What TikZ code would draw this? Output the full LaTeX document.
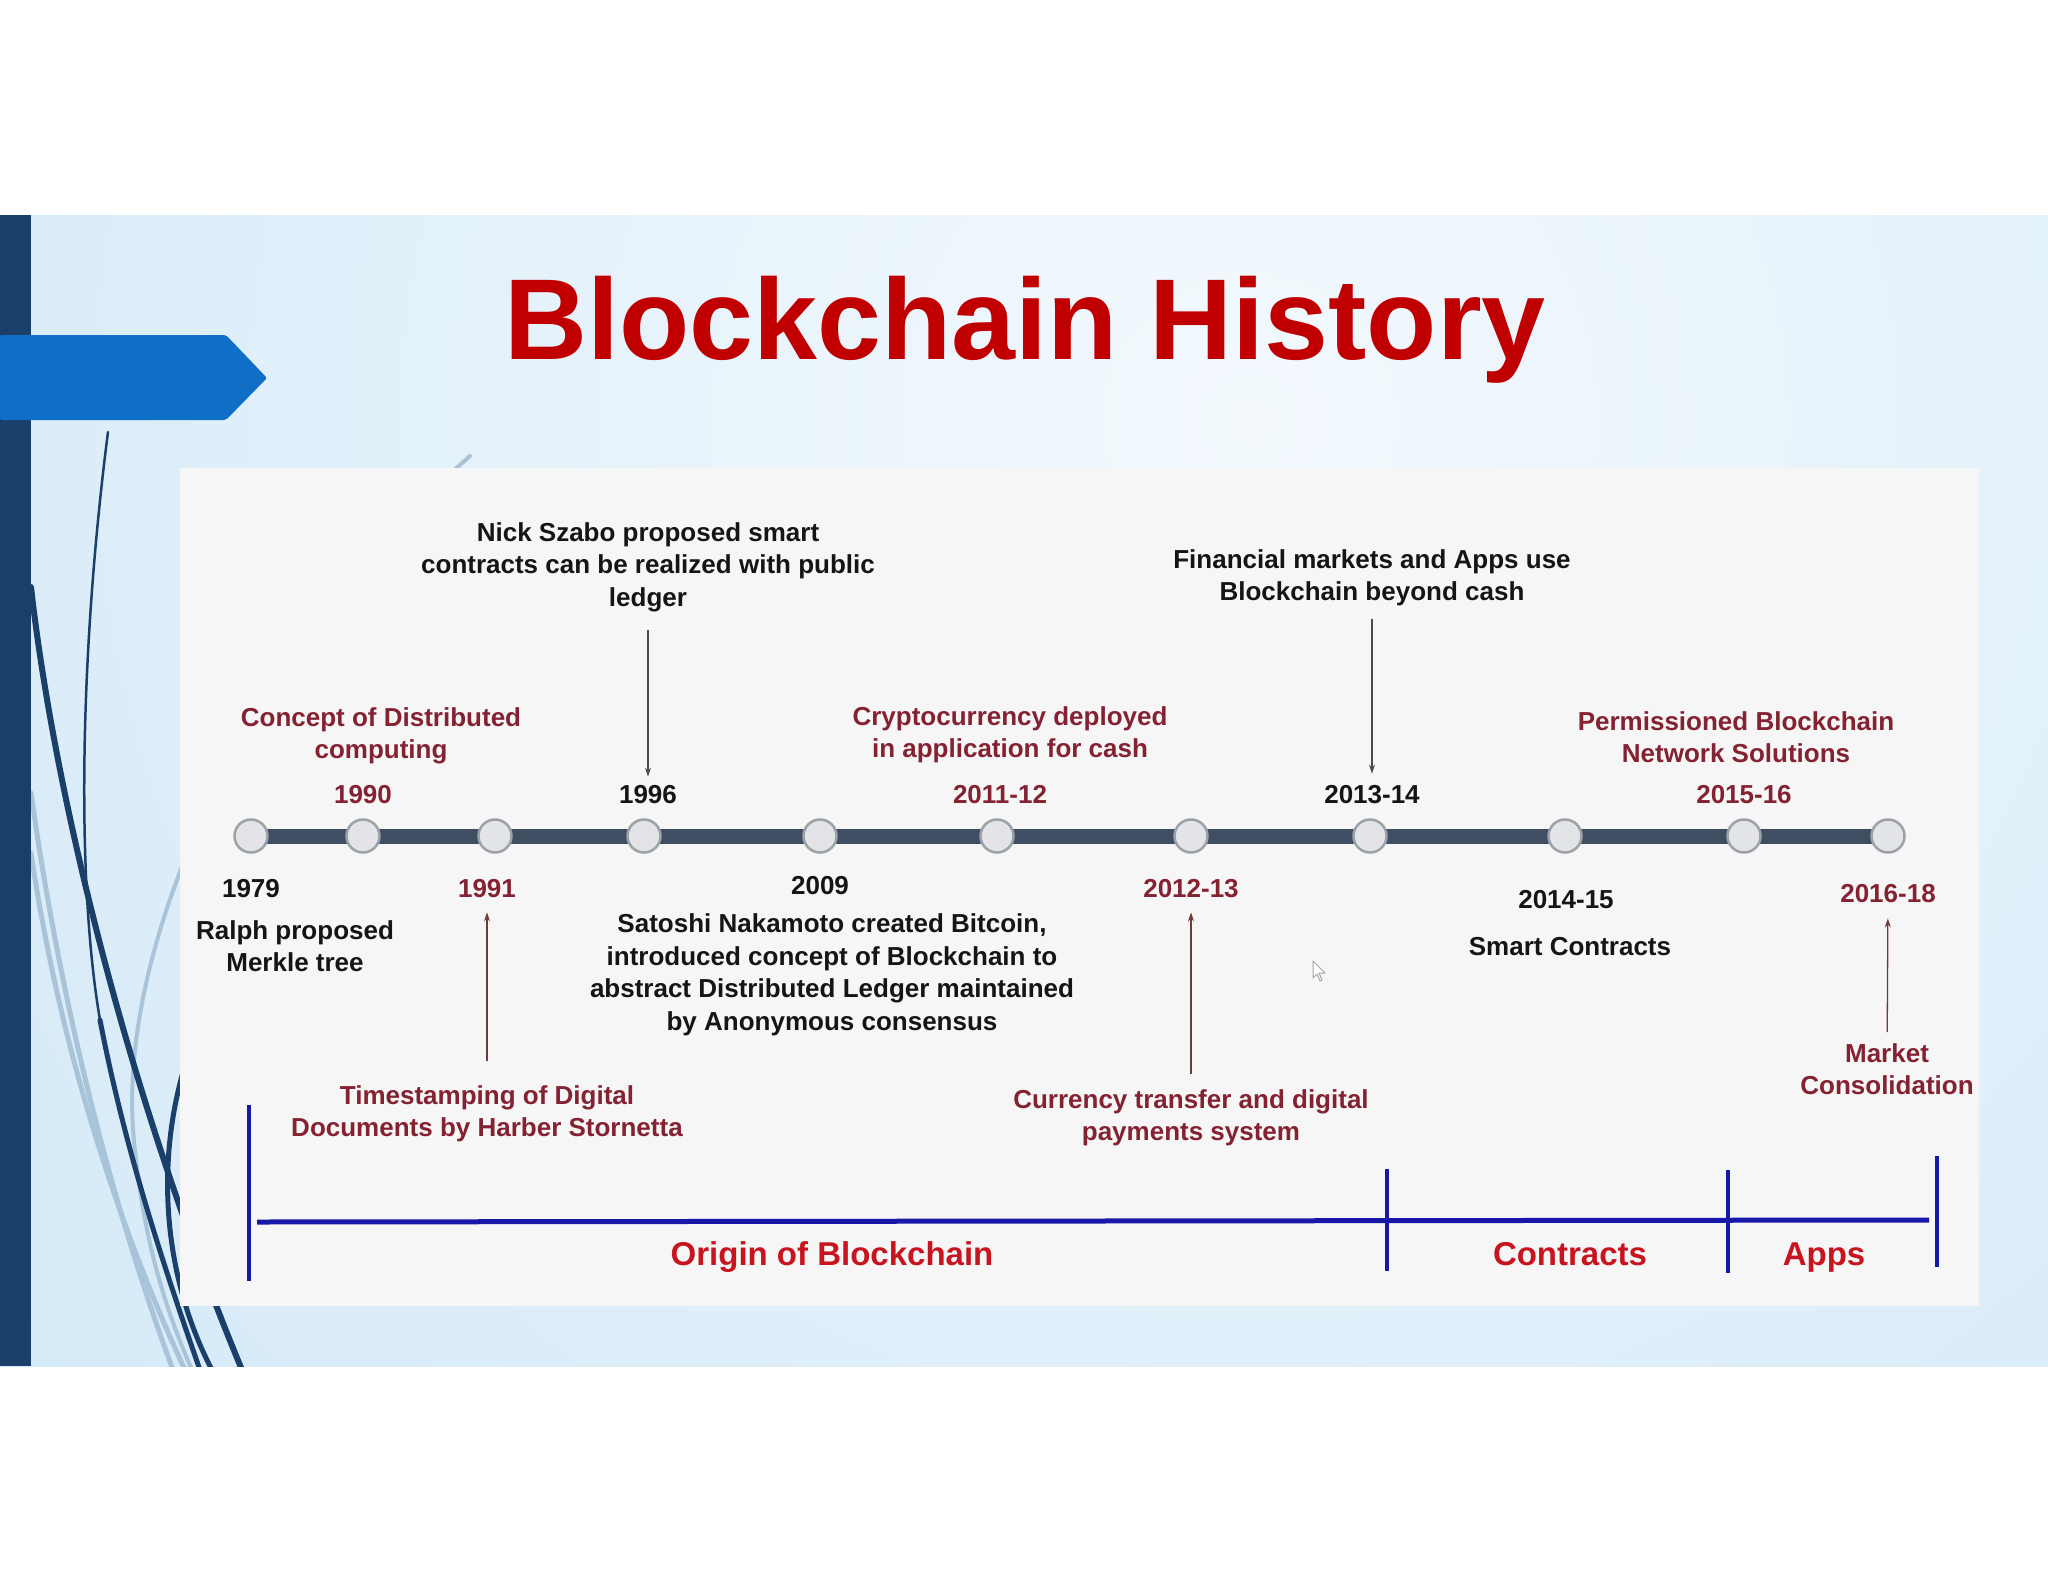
\documentclass[tikz,border=0pt]{standalone}
\usepackage{fontspec}
\setmainfont{Liberation Sans}
\usetikzlibrary{arrows.meta}
\pgfdeclarelayer{back}
\pgfdeclarelayer{mid}
\pgfsetlayers{back,mid,main}
\definecolor{navy}{HTML}{1B3F6B}
\definecolor{lightcurve}{HTML}{A9C3D8}
\definecolor{bandblue}{HTML}{CEE6F6}
\definecolor{bandlight}{HTML}{F3F9FD}
\definecolor{arrowblue}{HTML}{0F6FC6}
\definecolor{panelgray}{HTML}{F6F6F6}
\definecolor{titlered}{HTML}{C00000}
\definecolor{perred}{HTML}{C8141E}
\definecolor{maroon}{HTML}{842232}
\definecolor{txtblack}{HTML}{151515}
\definecolor{slate}{HTML}{3F4E62}
\definecolor{dotfill}{HTML}{E2E4E8}
\definecolor{dotborder}{HTML}{9DA1A8}
\definecolor{periodblue}{HTML}{1717A8}
\definecolor{ptrgray}{HTML}{4A4A4A}
\definecolor{ptrbrown}{HTML}{6E3A3A}
\begin{document}
\begin{tikzpicture}[x=1pt,y=-1pt,
  lbl/.style={font=\fontsize{26}{32.5}\selectfont\bfseries, align=center, inner sep=0pt},
  blk/.style={lbl, text=txtblack},
  mar/.style={lbl, text=maroon},
  dot/.style={circle, draw=dotborder, line width=2.5pt, fill=dotfill, minimum size=33pt, inner sep=0pt},
  tbar/.style={line width=15pt, draw=slate},
  ptr/.style={-{Stealth[length=9pt,width=6pt]}, line width=1.3pt},
  period/.style={line width=4.5pt, draw=periodblue},
  per/.style={font=\fontsize{33}{40}\selectfont\bfseries, text=perred, inner sep=0pt, anchor=base},
  dcurve/.style={draw=navy, line cap=round},
  lcurve/.style={draw=lightcurve, line cap=round}]
\useasboundingbox (0,0) rectangle (2048,1582);
\begin{pgfonlayer}{back}
\fill[white] (0,0) rectangle (2048,1582);
\begin{scope}
\clip (0,215) rectangle (2048,1366);
\fill[bandblue] (0,215) rectangle (2048,1366);
\shade[inner color=bandlight, outer color=bandblue] (1250,420) circle (1900);
% decorative curves
\draw[lcurve, line width=5pt] (31,793) .. controls (60,1000) and (110,1200) .. (173,1370);
\draw[lcurve, line width=5pt] (31,853) .. controls (60,1050) and (120,1230) .. (185,1370);
\draw[lcurve, line width=4pt] (470,456) .. controls (250,650) and (110,950) .. (135,1150) .. controls (145,1250) and (170,1320) .. (192,1370);
\draw[dcurve, line width=2.5pt] (108,432) .. controls (80,650) and (76,880) .. (100,1020);
\draw[dcurve, line width=5pt] (100,1020) .. controls (125,1150) and (165,1270) .. (200,1370);
\draw[dcurve, line width=6pt] (31,587) .. controls (55,800) and (130,1100) .. (242,1370);
\draw[dcurve, line width=5pt] (190,1050) .. controls (155,1150) and (160,1270) .. (212,1370);
\end{scope}
\fill[navy] (0,215) rectangle (31,1366);
\fill[arrowblue, rounded corners=2pt] (0,335) -- (226,335) -- (267,378) -- (226,420) -- (0,420) -- cycle;
\fill[panelgray] (180,468) rectangle (1979,1306);
\end{pgfonlayer}

\node[font=\fontsize{115}{130}\selectfont\bfseries, text=titlered, anchor=base, inner sep=0pt] (title) at (1025,359) {Blockchain History};

% timeline
\foreach \n/\x in {1/251,2/363,3/495,4/644,5/820,6/997,7/1191,8/1370,9/1565,10/1744,11/1888}
  \node[dot] (t\n) at (\x,836) {};
\begin{pgfonlayer}{mid}
\foreach \a/\b in {1/2,2/3,3/4,4/5,5/6,6/7,7/8,8/9,9/10,10/11}
  \draw[tbar] (t\a.center) -- (t\b.center);
\end{pgfonlayer}

% labels above
\node[mar] (c1) at (381,736) {Concept of Distributed\\computing};
\node[mar] (y1990) at (363,795) {1990};
\node[blk] (nick) at (648,567) {Nick Szabo proposed smart\\contracts can be realized with public\\ledger};
\node[blk] (y1996) at (648,795) {1996};
\node[mar] (crypto) at (1010,735) {Cryptocurrency deployed\\in application for cash};
\node[mar] (y2011) at (1000,795) {2011-12};
\node[blk] (fin) at (1372,578) {Financial markets and Apps use\\Blockchain beyond cash};
\node[blk] (y2013) at (1372,795) {2013-14};
\node[mar] (perm) at (1736,737) {Permissioned Blockchain\\Network Solutions};
\node[mar] (y2015) at (1744,795) {2015-16};

% labels below
\node[blk] (y1979) at (251,889) {1979};
\node[blk] (ralph) at (295,946) {Ralph proposed\\Merkle tree};
\node[mar] (y1991) at (487,889) {1991};
\node[mar] (times) at (487,1114) {Timestamping of Digital\\Documents by Harber Stornetta};
\node[blk] (y2009) at (820,886) {2009};
\node[blk] (satoshi) at (832,975) {Satoshi Nakamoto created Bitcoin,\\introduced concept of Blockchain to\\abstract Distributed Ledger maintained\\by Anonymous consensus};
\node[mar] (y2012) at (1191,889) {2012-13};
\node[mar] (currency) at (1191,1118) {Currency transfer and digital\\payments system};
\node[blk] (y2014) at (1566,900) {2014-15};
\node[blk] (smart) at (1570,947) {Smart Contracts};
\node[mar] (y2016) at (1888,894) {2016-18};
\node[mar] (market) at (1887,1069) {Market\\Consolidation};

% pointers
\draw[ptr, draw=ptrgray, shorten <=18pt, shorten >=9pt] (nick) -- (y1996);
\draw[ptr, draw=ptrgray, shorten <=12pt, shorten >=12pt] (fin) -- (y2013);
\draw[ptr, draw=ptrbrown, shorten <=24pt, shorten >=14pt] (times) -- (y1991);
\draw[ptr, draw=ptrbrown, shorten <=15pt, shorten >=14pt] (currency) -- (y2012);
\draw[ptr, draw=ptrbrown, shorten <=11pt, shorten >=15pt] (market) -- (y2016);

% mouse cursor
\draw[gray!70, fill=white, line width=1pt, line join=round] (1313,961) -- (1313,978) -- (1317,974) -- (1320,981) -- (1322,980) -- (1319,973) -- (1325,973) -- cycle;

% period bars
\coordinate (a0) at (249,1105); \coordinate (b0) at (249,1281);
\coordinate (a1) at (1387,1169); \coordinate (b1) at (1387,1271);
\coordinate (a2) at (1728,1170); \coordinate (b2) at (1728,1273);
\coordinate (a3) at (1937,1156); \coordinate (b3) at (1937,1267);
\coordinate (h0) at (257,1222); \coordinate (h1) at (1929,1220);
\draw[period] (a0) -- (b0);
\draw[period] (a1) -- (b1);
\draw[period] (a2) -- (b2);
\draw[period] (a3) -- (b3);
\draw[period, line width=5pt] (h0) -- (h1);
\node[per] (origin) at (832,1265) {Origin of Blockchain};
\node[per] (contracts) at (1570,1265) {Contracts};
\node[per] (apps) at (1824,1265) {Apps};
\end{tikzpicture}
\end{document}
